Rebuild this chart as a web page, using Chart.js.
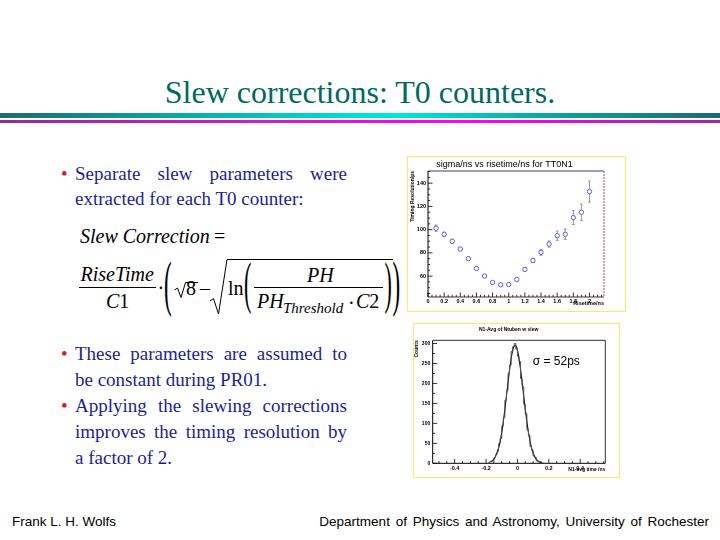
<!DOCTYPE html>
<html>
<head>
<meta charset="utf-8">
<script src="https://cdn.jsdelivr.net/npm/chart.js@4.4.1/dist/chart.umd.min.js"></script>
<style>
    body {
        margin: 0;
        width: 720px;
        height: 540px;
        position: relative;
        overflow: hidden;
        background: #fff;
        font-family: "Liberation Serif", serif;
    }
    .slide-title {
        position: absolute;
        left: 0;
        top: 74px;
        width: 720px;
        text-align: center;
        font-size: 32px;
        color: #006a5e;
    }
    .rule-teal {
        position: absolute;
        left: 0;
        top: 113px;
        width: 720px;
        height: 5px;
        background: linear-gradient(to right, #1e6b6b, #05b5b5 30%, #00e6e6 55%, #0aa8a8 75%, #1e6b6b);
    }
    .rule-magenta {
        position: absolute;
        left: 0;
        top: 120px;
        width: 720px;
        height: 2.5px;
        background: linear-gradient(to right, #9a2a96, #d01ad0 35%, #ff00ff 65%, #a8249f);
    }
    .bullets {
        position: absolute;
        left: 75px;
        width: 272px;
        font-size: 19px;
        color: #1b1f9a;
    }
    .bullets div {
        white-space: nowrap;
        position: relative;
    }
    .bullets .full {
        text-align: justify;
        text-align-last: justify;
    }
    .bullets .dot::before {
        content: "\2022";
        color: #e01818;
        position: absolute;
        left: -14px;
    }
    .footer {
        position: absolute;
        top: 514px;
        font-family: "Liberation Sans", Arial, sans-serif;
        font-size: 13.5px;
        color: #000;
        white-space: nowrap;
    }
    .chart-frame {
        position: absolute;
        border: 1.5px solid #eeee6a;
        box-sizing: border-box;
    }
    .chart-box {
        position: absolute;
    }
    svg.formula {
        position: absolute;
        left: 0;
        top: 0;
    }
</style>
</head>
<body>

<div class="slide-title">Slew corrections: T0 counters.</div>
<div class="rule-teal"></div>
<div class="rule-magenta"></div>

<div class="bullets" style="top: 161px; line-height: 25px;">
    <div class="full dot">Separate slew parameters were</div>
    <div>extracted for each T0 counter:</div>
</div>

<svg class="formula" width="420" height="340" font-family="Liberation Serif, serif" fill="#000">
    <text x="80" y="243" font-size="20" font-style="italic">Slew Correction</text>
    <text x="214" y="243" font-size="20">=</text>

    <text x="80.5" y="281" font-size="20" font-style="italic">RiseTime</text>
    <line x1="79" y1="287.5" x2="156" y2="287.5" stroke="#000" stroke-width="1"/>
    <text x="106" y="308" font-size="20"><tspan font-style="italic">C</tspan>1</text>
    <text x="157.5" y="295" font-size="20">·</text>

    <text transform="translate(164,304) scale(1.15,3.1)" font-size="20">(</text>
    <path d="M174.5,290 L177.5,288 L181,297.5 L185.5,282.5 L198,282.5" fill="none" stroke="#000" stroke-width="1"/>
    <text x="186" y="295" font-size="20">8</text>
    <text x="200" y="295" font-size="20">–</text>

    <path d="M210,301 L213.5,298.5 L218.5,314 L227,259.5 L393,259.5" fill="none" stroke="#000" stroke-width="1"/>
    <text x="228" y="295" font-size="20">ln</text>
    <text transform="translate(244,302) scale(1.1,2.8)" font-size="20">(</text>
    <text x="307" y="281.5" font-size="20" font-style="italic">PH</text>
    <line x1="254" y1="287.5" x2="383" y2="287.5" stroke="#000" stroke-width="1"/>
    <text x="257" y="308" font-size="20" font-style="italic">PH</text>
    <text x="283" y="313" font-size="15" font-style="italic">Threshold</text>
    <text x="348" y="310" font-size="20">·</text>
    <text x="356" y="308" font-size="20"><tspan font-style="italic">C</tspan>2</text>
    <text transform="translate(384.5,302) scale(1.1,2.8)" font-size="20">)</text>
    <text transform="translate(392.5,304) scale(1.15,3.1)" font-size="20">)</text>
</svg>

<div class="bullets" style="top: 341px; line-height: 26px;">
    <div class="full dot">These parameters are assumed to</div>
    <div>be constant during PR01.</div>
    <div class="full dot">Applying the slewing corrections</div>
    <div class="full">improves the timing resolution by</div>
    <div>a factor of 2.</div>
</div>

<div class="chart-frame" style="left: 407px; top: 156px; width: 219px; height: 156px;"></div>
<div class="chart-box" style="left: 405px; top: 155px; width: 222px; height: 158px;">
    <canvas id="slewChart"></canvas>
</div>

<div class="chart-frame" style="left: 413px; top: 323px; width: 207px; height: 155px;"></div>
<div class="chart-box" style="left: 412px; top: 322px; width: 208px; height: 156px;">
    <canvas id="histChart"></canvas>
</div>

<div class="footer" style="left: 12px;">Frank L. H. Wolfs</div>
<div class="footer" style="right: 11px; word-spacing: 2px;">Department of Physics and Astronomy, University of Rochester</div>

<script>
// sigma vs risetime (top chart)
const riseTimes = [0.1, 0.2, 0.3, 0.4, 0.5, 0.6, 0.7, 0.8, 0.9, 1.0, 1.1, 1.2, 1.3, 1.4, 1.5, 1.6, 1.7, 1.8, 1.9, 2.0];
const sigmaValues = [101.2, 96, 90, 83.3, 75, 66.6, 60, 54.5, 52.5, 52.8, 57.1, 65.8, 73.5, 80.4, 87.6, 94.8, 96, 110.4, 115, 132.8];
const sigmaErrors = [2.8, 1.8, 1.7, 1.4, 1.3, 1.2, 1.2, 1.2, 1.2, 1.2, 1.3, 1.5, 1.8, 2.4, 2.7, 4, 4.5, 6, 7, 9];

// N1 - average time histogram (bottom chart), 0.01 ns bins
const binWidth = 0.01;
const binCenters = [-0.175, -0.165, -0.155, -0.145, -0.135, -0.125, -0.115, -0.105, -0.095, -0.085,
    -0.075, -0.065, -0.055, -0.045, -0.035, -0.025, -0.015, -0.005, 0.005, 0.015,
    0.025, 0.035, 0.045, 0.055, 0.065, 0.075, 0.085, 0.095, 0.105, 0.115,
    0.125, 0.135, 0.145, 0.155];
const binCounts = [3, 5, 6, 14, 22, 30, 49, 62, 93, 115,
    158, 183, 225, 246, 280, 292, 300, 286, 268, 255,
    212, 192, 148, 124, 84, 70, 42, 33, 18, 15,
    6, 5, 2, 1];
const fitTimes = [-0.17, -0.15, -0.13, -0.11, -0.09, -0.07, -0.05, -0.04, -0.03, -0.02, -0.01, 0, 0.01, 0.03, 0.05, 0.07, 0.09, 0.11, 0.13, 0.15];
const fitCounts = [3.5, 10, 26, 55, 104, 169, 235, 263, 283, 294, 294, 283, 263, 203, 135, 78, 38, 16.5, 6, 2];

const TICK_FONT = { family: "'Liberation Sans', Arial, sans-serif", size: 5.5, weight: "bold" };

function range(start, stop, step) {
    const values = [];
    const count = Math.round((stop - start) / step);
    for (let i = 0; i <= count; i++) values.push(Math.round((start + i * step) * 1e6) / 1e6);
    return values;
}

function isStep(value, step) {
    const r = value / step;
    return Math.abs(r - Math.round(r)) < 1e-6;
}

function setTicks(values) {
    return (scale) => {
        scale.ticks = values.map((value) => ({ value }));
    };
}

// ROOT style frame with ticks drawn inside the plot area
const rootFrame = {
    id: "rootFrame",
    afterDraw(chart, args, opts) {
        const { ctx, chartArea: a, scales: { x, y } } = chart;
        ctx.save();
        ctx.lineWidth = 0.8;
        ctx.strokeStyle = "#000";
        ctx.beginPath();
        for (const t of x.ticks) {
            const px = x.getPixelForValue(t.value);
            const len = isStep(t.value, opts.xMajor) ? 4.5 : 2.2;
            ctx.moveTo(px, a.bottom);
            ctx.lineTo(px, a.bottom - len);
        }
        for (const t of y.ticks) {
            const py = y.getPixelForValue(t.value);
            const len = isStep(t.value, opts.yMajor) ? 4.5 : 2.2;
            ctx.moveTo(a.left, py);
            ctx.lineTo(a.left + len, py);
        }
        ctx.stroke();

        const side = (x1, y1, x2, y2, color, dash) => {
            ctx.beginPath();
            ctx.strokeStyle = color;
            ctx.setLineDash(dash || []);
            ctx.moveTo(x1, y1);
            ctx.lineTo(x2, y2);
            ctx.stroke();
        };
        ctx.lineWidth = 1;
        side(a.left, a.top, a.right, a.top, opts.topColor);
        side(a.right, a.top, a.right, a.bottom, opts.rightColor, opts.rightDash);
        side(a.left, a.bottom, a.right, a.bottom, opts.bottomColor);
        side(a.left, a.top, a.left, a.bottom, "#000");

        if (opts.note) {
            ctx.setLineDash([]);
            ctx.fillStyle = "#000";
            ctx.font = "12px 'Liberation Sans', Arial, sans-serif";
            ctx.textBaseline = "alphabetic";
            ctx.fillText(opts.note, a.left + opts.noteX, a.top + opts.noteY);
        }
        ctx.restore();
    },
};

// vertical error bars with small caps
const errorBars = {
    id: "errorBars",
    beforeDatasetsDraw(chart, args, opts) {
        if (!opts.errors) return;
        const { ctx, scales: { x, y } } = chart;
        ctx.save();
        ctx.strokeStyle = "#9a9a9a";
        ctx.lineWidth = 1;
        ctx.beginPath();
        opts.errors.forEach((err, i) => {
            const px = x.getPixelForValue(riseTimes[i]);
            const top = y.getPixelForValue(sigmaValues[i] + err);
            const bottom = y.getPixelForValue(sigmaValues[i] - err);
            ctx.moveTo(px, top);
            ctx.lineTo(px, bottom);
            ctx.moveTo(px - 1.5, top);
            ctx.lineTo(px + 1.5, top);
            ctx.moveTo(px - 1.5, bottom);
            ctx.lineTo(px + 1.5, bottom);
        });
        ctx.stroke();
        ctx.restore();
    },
};

Chart.register(rootFrame, errorBars);

new Chart(document.getElementById("slewChart"), {
    type: "scatter",
    data: {
        datasets: [
            {
                data: riseTimes.map((t, i) => ({ x: t, y: sigmaValues[i] })),
                pointStyle: "circle",
                pointRadius: 2.2,
                pointBorderWidth: 1,
                pointBorderColor: "#5b5bf0",
                pointBackgroundColor: "#fff",
            },
        ],
    },
    options: {
        responsive: true,
        maintainAspectRatio: false,
        animation: false,
        events: [],
        layout: { padding: { left: 0, right: 23, top: 0, bottom: 0 } },
        plugins: {
            legend: { display: false },
            tooltip: { enabled: false },
            title: {
                display: true,
                text: "sigma/ns vs risetime/ns for TT0N1",
                color: "#000",
                font: { family: "'Liberation Sans', Arial, sans-serif", size: 9, weight: "normal", lineHeight: 1.2 },
                padding: { top: 4, bottom: 1.2 },
            },
            rootFrame: { xMajor: 0.2, yMajor: 20, topColor: "#444", rightColor: "#c84040", rightDash: [2, 1], bottomColor: "#5a2020" },
            errorBars: { errors: sigmaErrors },
        },
        scales: {
            x: {
                type: "linear",
                min: 0,
                max: 2.18,
                afterBuildTicks: setTicks(range(0, 2.15, 0.05)),
                afterFit: (scale) => { scale.height = 16; },
                grid: { display: false, drawTicks: false },
                border: { display: false },
                ticks: {
                    autoSkip: false,
                    maxRotation: 0,
                    padding: 1,
                    color: "#000",
                    font: TICK_FONT,
                    callback: (v) => (isStep(v, 0.2) ? String(Math.round(v * 10) / 10) : ""),
                },
                title: {
                    display: true,
                    text: "Risetime/ns",
                    align: "end",
                    color: "#000",
                    font: { family: "'Liberation Sans', Arial, sans-serif", size: 5.5, weight: "bold" },
                    padding: { top: 0, bottom: 6 },
                },
            },
            y: {
                type: "linear",
                min: 42,
                max: 150.5,
                afterBuildTicks: setTicks(range(45, 150, 5)),
                afterFit: (scale) => { scale.width = 23; },
                grid: { display: false, drawTicks: false },
                border: { display: false },
                ticks: {
                    autoSkip: false,
                    padding: 2,
                    color: "#000",
                    font: TICK_FONT,
                    callback: (v) => (isStep(v, 20) ? String(v) : ""),
                },
                title: {
                    display: true,
                    text: "Timing Resolution/ps",
                    align: "end",
                    color: "#000",
                    font: { family: "'Liberation Sans', Arial, sans-serif", size: 5, weight: "bold" },
                    padding: { top: 5, bottom: 0 },
                },
            },
        },
    },
});

const histPoints = [{ x: binCenters[0] - binWidth, y: 0 }]
    .concat(binCenters.map((c, i) => ({ x: c, y: binCounts[i] })))
    .concat([{ x: binCenters[binCenters.length - 1] + binWidth, y: 0 }]);

new Chart(document.getElementById("histChart"), {
    type: "line",
    data: {
        datasets: [
            {
                data: histPoints,
                stepped: "middle",
                borderColor: "#555",
                borderWidth: 1,
                pointRadius: 0,
                fill: false,
            },
            {
                data: fitTimes.map((t, i) => ({ x: t, y: fitCounts[i] })),
                borderColor: "#000",
                borderWidth: 1.1,
                pointRadius: 0,
                tension: 0.4,
                fill: false,
            },
        ],
    },
    options: {
        responsive: true,
        maintainAspectRatio: false,
        animation: false,
        events: [],
        layout: { padding: { left: 0, right: 14.7, top: 0, bottom: 0 } },
        plugins: {
            legend: { display: false },
            tooltip: { enabled: false },
            title: {
                display: true,
                text: "N1-Avg of Ntuben w slew",
                color: "#000",
                font: { family: "'Liberation Sans', Arial, sans-serif", size: 5, weight: "bold", lineHeight: 1.2 },
                padding: { top: 5, bottom: 7.3 },
            },
            rootFrame: {
                xMajor: 0.2, yMajor: 50, topColor: "#333", rightColor: "#333", bottomColor: "#000",
                note: "\u03c3 = 52ps", noteX: 100, noteY: 25,
            },
        },
        scales: {
            x: {
                type: "linear",
                min: -0.54,
                max: 0.56,
                afterBuildTicks: setTicks(range(-0.5, 0.55, 0.05)),
                afterFit: (scale) => { scale.height = 14.7; },
                grid: { display: false, drawTicks: false },
                border: { display: false },
                ticks: {
                    autoSkip: false,
                    maxRotation: 0,
                    padding: 1.5,
                    color: "#000",
                    font: TICK_FONT,
                    callback: (v) => (isStep(v, 0.2) ? String(Math.round(v * 10) / 10) : ""),
                },
                title: {
                    display: true,
                    text: "N1-avg time /ns",
                    align: "end",
                    color: "#000",
                    font: { family: "'Liberation Sans', Arial, sans-serif", size: 5, weight: "bold" },
                    padding: { top: 0, bottom: 5 },
                },
            },
            y: {
                type: "linear",
                min: 0,
                max: 308,
                afterBuildTicks: setTicks(range(0, 300, 25)),
                afterFit: (scale) => { scale.width = 20.7; },
                grid: { display: false, drawTicks: false },
                border: { display: false },
                ticks: {
                    autoSkip: false,
                    padding: 2.5,
                    color: "#000",
                    font: { family: "'Liberation Sans', Arial, sans-serif", size: 5, weight: "bold" },
                    callback: (v) => (isStep(v, 50) ? String(v) : ""),
                },
                title: {
                    display: true,
                    text: "Counts",
                    align: "end",
                    color: "#000",
                    font: { family: "'Liberation Sans', Arial, sans-serif", size: 5, weight: "bold" },
                    padding: { top: 1.5, bottom: 0 },
                },
            },
        },
    },
});
</script>
</body>
</html>
